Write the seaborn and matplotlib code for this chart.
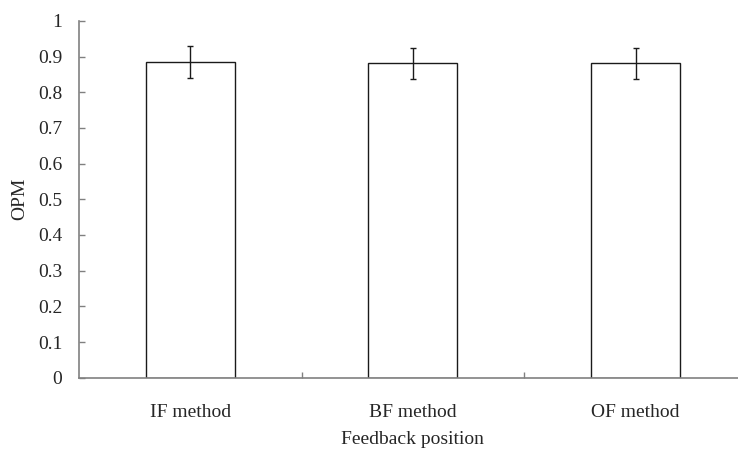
import numpy as np
import pandas as pd
import seaborn as sns
import matplotlib.pyplot as plt
from matplotlib.ticker import MultipleLocator, FuncFormatter

# values
methods = ['IF method', 'BF method', 'OF method']
opm = [0.884, 0.881, 0.881]
opm_err = [0.045, 0.044, 0.044]

df = pd.DataFrame({'method': methods, 'opm': opm})

sns.set_theme(style='white')
plt.rcParams['font.family'] = ['Liberation Serif', 'DejaVu Serif']
plt.rcParams['font.size'] = 14

fig = plt.figure(figsize=(7.38, 4.54), dpi=100)
ax = fig.add_axes([0.107, 0.168, 0.905, 0.786])

sns.barplot(x='method', y='opm', data=df, color='white', edgecolor='#1a1a1a',
            linewidth=1.0, width=0.4, errorbar=None, ax=ax)
ax.errorbar(np.arange(len(methods)), opm, yerr=opm_err, fmt='none',
            ecolor='#1a1a1a', elinewidth=1.0, capsize=2, capthick=1.0)

ax.set_xlim(-0.5, 2.5)
ax.set_ylim(0, 1)
ax.yaxis.set_major_locator(MultipleLocator(0.1))
ax.yaxis.set_major_formatter(FuncFormatter(lambda v, p: '{:g}'.format(round(v, 1))))
ax.set_xticks([0.5, 1.5], minor=True)

axis_grey = '#808080'
for s in ['top', 'right']:
    ax.spines[s].set_visible(False)
for s in ['left', 'bottom']:
    ax.spines[s].set_color(axis_grey)
    ax.spines[s].set_linewidth(1.2)

ax.tick_params(axis='y', which='major', direction='in', length=4.5, width=1,
               color=axis_grey, pad=12, labelsize=14, left=True)
ax.tick_params(axis='x', which='major', length=0, pad=19, labelsize=14)
ax.tick_params(axis='x', which='minor', direction='in', length=4.5, width=1,
               color=axis_grey, bottom=True)

ax.set_xlabel('Feedback position', fontsize=14, labelpad=7)
ax.set_ylabel('OPM', fontsize=14, labelpad=7)

plt.savefig('out.png', dpi=100)
